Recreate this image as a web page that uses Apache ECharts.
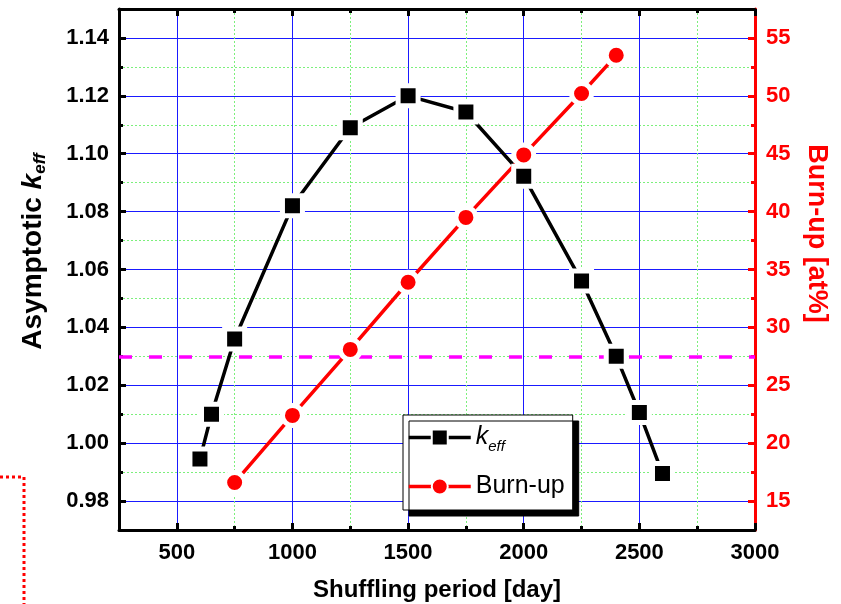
<!DOCTYPE html>
<html>
<head>
<meta charset="utf-8">
<script src="https://cdn.jsdelivr.net/npm/echarts@6/dist/echarts.min.js"></script>
<style>html,body{margin:0;padding:0;background:#fff;}#chart{width:841px;height:604px;}</style>
</head>
<body>
<div id="chart"></div>
<script>
// ---- data ----
var keffX = [600, 650, 750, 1000, 1250, 1500, 1750, 2000, 2250, 2400, 2500, 2600];
var keffY = [0.9945, 1.010, 1.036, 1.082, 1.109, 1.120, 1.1144, 1.0922, 1.056, 1.030, 1.0106, 0.9895];
var burnX = [750, 1000, 1250, 1500, 1750, 2000, 2250, 2400];
var burnY = [16.6, 22.4, 28.1, 33.9, 39.5, 44.9, 50.2, 53.5];
var keffLimit = 1.03;
var xMajorTicks = [500, 1000, 1500, 2000, 2500, 3000];
var yLeftMajorTicks = [0.98, 1.00, 1.02, 1.04, 1.06, 1.08, 1.10, 1.12, 1.14];
var yRightMajorTicks = [15, 20, 25, 30, 35, 40, 45, 50, 55];
var yRightMinorTicks = [17.5, 22.5, 27.5, 32.5, 37.5, 42.5, 47.5, 52.5];

var FONT = '"Liberation Sans", Arial, sans-serif';
var chart = echarts.init(document.getElementById('chart'), null, {renderer: 'canvas'});

function zip(a, b) { return a.map(function (v, i) { return [v, b[i]]; }); }

var labelStyle = {fontFamily: FONT, fontWeight: 'bold', fontSize: 22, color: '#000'};
var blueSplit = {show: true, lineStyle: {color: '#1a1aff', width: 1, type: 'solid'}};
var greenSplit = {show: true, lineStyle: {color: '#7cf07c', width: 1, type: [2, 2]}};

var option = {
  animation: false,
  backgroundColor: '#fff',
  grid: {left: 119, right: 86, top: 9, bottom: 74, containLabel: false, outerBoundsMode: 'none'},
  legend: {
    orient: 'vertical',
    left: 403, top: 415,
    backgroundColor: '#fff',
    borderColor: '#000', borderWidth: 1,
    shadowColor: '#000', shadowBlur: 0, shadowOffsetX: 6, shadowOffsetY: 6,
    padding: [10, 8, 11, 4],
    itemWidth: 62, itemHeight: 20, itemGap: 20,
    lineStyle: {width: 3.5},
    textStyle: {fontFamily: FONT, fontSize: 25, color: '#000',
      rich: {
        k: {fontFamily: FONT, fontSize: 25, fontStyle: 'italic', color: '#000'},
        s: {fontFamily: FONT, fontSize: 15, fontStyle: 'italic', color: '#000', padding: [18, 0, 0, 0]}
      }},
    formatter: function (name) { return name === 'keff' ? '{k|k}{s|eff}' : name; },
    data: ['keff', 'Burn-up']
  },
  xAxis: [
    {type: 'value', position: 'bottom', min: 250, max: 3000,
      name: 'Shuffling period [day]', nameLocation: 'middle', nameGap: 48,
      nameTextStyle: {fontFamily: FONT, fontWeight: 'bold', fontSize: 24, color: '#000'},
      axisLine: {show: true, onZero: false, lineStyle: {color: '#000', width: 3}},
      axisTick: {show: true, inside: true, length: 7, customValues: xMajorTicks, lineStyle: {color: '#000', width: 3}},
      axisLabel: {show: true, margin: 12, customValues: xMajorTicks, formatter: function (v) { return String(v); }, ...labelStyle},
      splitLine: blueSplit},
    {type: 'value', position: 'bottom', min: 250, max: 3000, interval: 500,
      axisLine: {show: false}, axisLabel: {show: false},
      axisTick: {show: true, inside: true, length: 4, lineStyle: {color: '#000', width: 3}},
      splitLine: greenSplit},
    {type: 'value', position: 'top', min: 250, max: 3000,
      axisLine: {show: true, onZero: false, lineStyle: {color: '#000', width: 3}},
      axisTick: {show: true, inside: true, length: 7, customValues: xMajorTicks, lineStyle: {color: '#000', width: 3}},
      axisLabel: {show: false}, splitLine: {show: false}},
    {type: 'value', position: 'top', min: 250, max: 3000, interval: 500,
      axisLine: {show: false}, axisLabel: {show: false},
      axisTick: {show: true, inside: true, length: 4, lineStyle: {color: '#000', width: 3}},
      splitLine: {show: false}}
  ],
  yAxis: [
    {type: 'value', position: 'left', min: 0.97, max: 1.15,
      name: '{a|Asymptotic }{k|k}{s|eff}', nameLocation: 'middle', nameGap: 70, nameRotate: 90,
      nameTextStyle: {padding: [0, 0, 0, 36], rich: {
        a: {fontFamily: FONT, fontWeight: 'bold', fontSize: 28, color: '#000'},
        k: {fontFamily: FONT, fontWeight: 'bold', fontStyle: 'italic', fontSize: 28, color: '#000'},
        s: {fontFamily: FONT, fontWeight: 'bold', fontStyle: 'italic', fontSize: 17, color: '#000', padding: [14, 0, 0, 0]}
      }},
      axisLine: {show: true, onZero: false, lineStyle: {color: '#000', width: 3}},
      axisTick: {show: true, inside: true, length: 7, customValues: yLeftMajorTicks, lineStyle: {color: '#000', width: 3}},
      axisLabel: {show: true, margin: 10, customValues: yLeftMajorTicks, formatter: function (v) { return v.toFixed(2); }, ...labelStyle},
      splitLine: blueSplit},
    {type: 'value', position: 'left', min: 0.97, max: 1.15, interval: 0.02,
      axisLine: {show: false}, axisLabel: {show: false},
      axisTick: {show: true, inside: true, length: 4, lineStyle: {color: '#000', width: 3}},
      splitLine: greenSplit},
    {type: 'value', position: 'right', min: 12.5, max: 57.5,
      name: 'Burn-up [at%]', nameLocation: 'middle', nameGap: 48, nameRotate: -90,
      nameTextStyle: {fontFamily: FONT, fontWeight: 'bold', fontSize: 27, color: '#ff0000', padding: [0, 72, 0, 0]},
      axisLine: {show: true, onZero: false, lineStyle: {color: '#ff0000', width: 3}},
      axisTick: {show: true, inside: true, length: 7, customValues: yRightMajorTicks, lineStyle: {color: '#ff0000', width: 3}},
      axisLabel: {show: true, margin: 11, customValues: yRightMajorTicks, ...labelStyle, color: '#ff0000'},
      splitLine: {show: false}},
    {type: 'value', position: 'right', min: 12.5, max: 57.5,
      axisLine: {show: false}, axisLabel: {show: false},
      axisTick: {show: true, inside: true, length: 4, customValues: yRightMinorTicks, lineStyle: {color: '#ff0000', width: 3}},
      splitLine: {show: false}}
  ],
  series: [
    {name: 'keff', type: 'line', xAxisIndex: 0, yAxisIndex: 0,
      data: zip(keffX, keffY),
      symbol: 'rect', symbolSize: 20,
      lineStyle: {color: '#000', width: 3.5},
      itemStyle: {color: '#000', borderColor: '#fff', borderWidth: 5},
      z: 5,
      markLine: {silent: true, symbol: ['none', 'none'], label: {show: false},
        lineStyle: {color: '#ff00ff', width: 3.5, type: [13, 17]},
        data: [{yAxis: keffLimit}]}},
    {name: 'Burn-up', type: 'line', xAxisIndex: 0, yAxisIndex: 2,
      data: zip(burnX, burnY),
      symbol: 'circle', symbolSize: 20,
      lineStyle: {color: '#ff0000', width: 3.5},
      itemStyle: {color: '#ff0000', borderColor: '#fff', borderWidth: 5},
      z: 5}
  ],
  graphic: [
    {type: 'polyline', shape: {points: [[0, 477], [24, 477], [24, 604]]},
      style: {stroke: '#ff0000', lineWidth: 3, lineDash: [3, 3], fill: null}, silent: true}
  ]
};
chart.setOption(option);
</script>
</body>
</html>
